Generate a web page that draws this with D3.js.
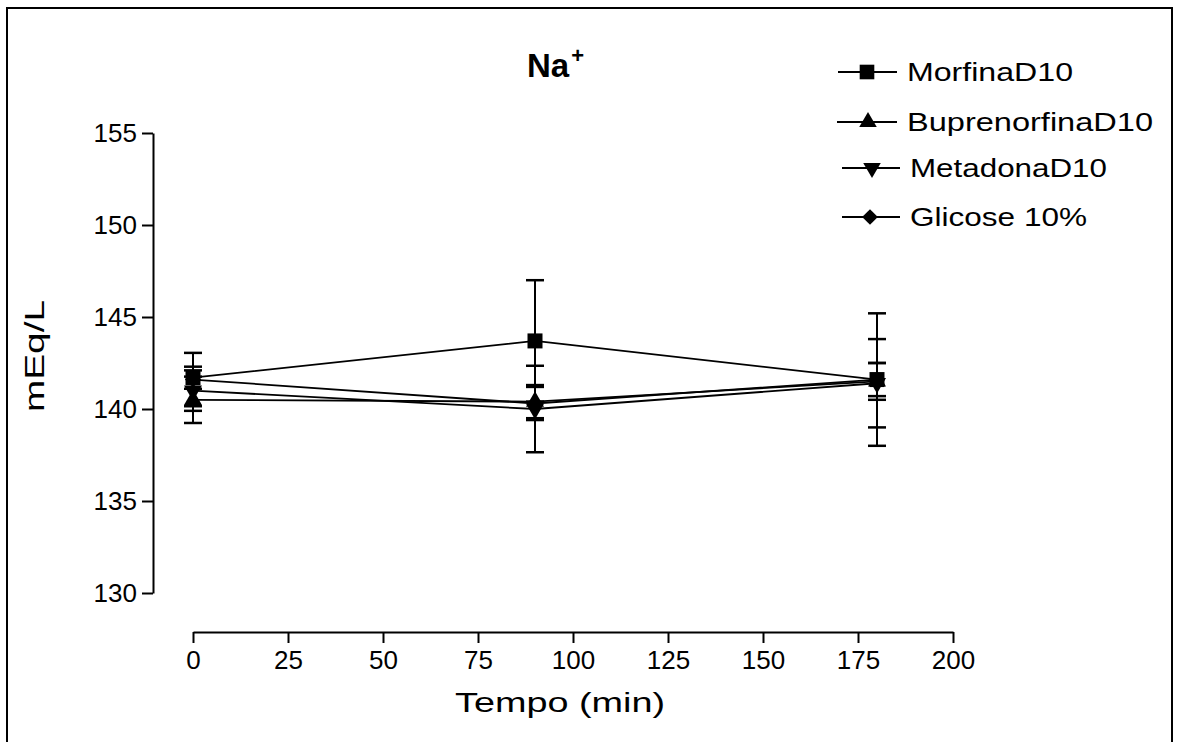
<!DOCTYPE html>
<html>
<head>
<meta charset="utf-8">
<script src="https://cdn.jsdelivr.net/npm/d3@7"></script>
<style>
  body { margin: 0; background: #fff; }
  text { font-family: Arial, "Liberation Sans", sans-serif; fill: #000; }
</style>
</head>
<body>
<div id="chart"></div>
<script>
const width = 1182;
const height = 742;

// Data
const tempo = [0, 90, 180];
const seriesNames = ["MorfinaD10", "BuprenorfinaD10", "MetadonaD10", "Glicose 10%"];
const morfina = [141.7, 143.7, 141.6];
const morfinaErr = [0.6, 3.3, 3.6];
const buprenorfina = [140.5, 140.4, 141.5];
const buprenorfinaErr = [1.26, 0.9, 1.0];
const metadona = [141.0, 140.0, 141.4];
const metadonaErr = [1.1, 2.35, 2.4];
const glicose = [141.6, 140.3, 141.6];
const glicoseErr = [1.45, 0.9, 0.9];
const xTicks = [0, 25, 50, 75, 100, 125, 150, 175, 200];
const yTicks = [130, 135, 140, 145, 150, 155];

const series = [
  { name: seriesNames[0], values: morfina, err: morfinaErr, symbol: "square" },
  { name: seriesNames[1], values: buprenorfina, err: buprenorfinaErr, symbol: "up" },
  { name: seriesNames[2], values: metadona, err: metadonaErr, symbol: "down" },
  { name: seriesNames[3], values: glicose, err: glicoseErr, symbol: "diamond" },
];

const svg = d3
  .select("#chart")
  .append("svg")
  .attr("width", width)
  .attr("height", height);

// outer frame
svg
  .append("rect")
  .attr("x", 7)
  .attr("y", 8)
  .attr("width", 1165)
  .attr("height", 760)
  .attr("fill", "none")
  .attr("stroke", "#000")
  .attr("stroke-width", 2);

const xScale = d3.scaleLinear().domain([0, 200]).range([193, 953]);
const yScale = d3.scaleLinear().domain([130, 155]).range([593, 133]);

// marker path helper
function markerPath(type, big) {
  const k = big ? 1 : 0.95;
  if (type === "square") return d3.symbol(d3.symbolSquare, 225 * k)();
  if (type === "diamond") return d3.symbol(d3.symbolSquare, 130 * k)();
  return d3.symbol(d3.symbolTriangle, 140 * k)();
}
function markerRotate(type) {
  if (type === "diamond") return " rotate(45)";
  if (type === "down") return " rotate(180)";
  return "";
}

// axes
const xAxis = svg
  .append("g")
  .attr("transform", "translate(0,632)")
  .call(d3.axisBottom(xScale).tickValues(xTicks).tickSize(11).tickPadding(8).tickSizeOuter(0));

const yAxis = svg
  .append("g")
  .attr("transform", "translate(153,0)")
  .call(d3.axisLeft(yScale).tickValues(yTicks).tickSize(11).tickPadding(5).tickSizeOuter(0));

[xAxis, yAxis].forEach((ax) => {
  ax.select(".domain").attr("stroke-width", 2);
  ax.selectAll(".tick line").attr("stroke-width", 2);
  ax.selectAll(".tick text")
    .attr("font-size", 26)
    .attr("font-family", "Arial, 'Liberation Sans', sans-serif");
});
xAxis.selectAll(".tick text").attr("dy", "0.71em");

// error bars
const capHalf = 9;
series.forEach((s) => {
  const g = svg.append("g");
  tempo.forEach((t, i) => {
    const x = xScale(t);
    const hi = yScale(s.values[i] + s.err[i]);
    const lo = yScale(s.values[i] - s.err[i]);
    g.append("line").attr("x1", x).attr("x2", x).attr("y1", hi).attr("y2", lo)
      .attr("stroke", "#000").attr("stroke-width", 2);
    [hi, lo].forEach((yy) => {
      g.append("line").attr("x1", x - capHalf).attr("x2", x + capHalf)
        .attr("y1", yy).attr("y2", yy)
        .attr("stroke", "#000").attr("stroke-width", 2.5);
    });
  });
});

// lines
const line = d3.line().x((d) => xScale(d[0])).y((d) => yScale(d[1]));
series.forEach((s) => {
  svg
    .append("path")
    .datum(tempo.map((t, i) => [t, s.values[i]]))
    .attr("d", line)
    .attr("fill", "none")
    .attr("stroke", "#000")
    .attr("stroke-width", 1.8);
});

// markers
series.forEach((s) => {
  svg
    .selectAll(null)
    .data(tempo.map((t, i) => [t, s.values[i]]))
    .enter()
    .append("path")
    .attr("d", markerPath(s.symbol, true))
    .attr("transform", (d) => `translate(${xScale(d[0])},${yScale(d[1])})` + markerRotate(s.symbol))
    .attr("fill", "#000");
});

// title
const title = svg.append("text")
  .attr("x", 527)
  .attr("y", 77)
  .attr("font-size", 33)
  .attr("font-weight", "bold");
title.append("tspan").text("Na");
title.append("tspan").attr("font-size", 22).attr("dy", -14).attr("dx", 2).text("+");

// axis titles
svg.append("text")
  .attr("x", 560)
  .attr("y", 712)
  .attr("text-anchor", "middle")
  .attr("font-size", 27)
  .attr("textLength", 210)
  .attr("lengthAdjust", "spacingAndGlyphs")
  .text("Tempo (min)");

svg.append("text")
  .attr("transform", "translate(44,356) rotate(-90)")
  .attr("text-anchor", "middle")
  .attr("font-size", 27)
  .attr("textLength", 112)
  .attr("lengthAdjust", "spacingAndGlyphs")
  .text("mEq/L");

// legend
const legendRows = [
  { y: 72, x1: 838, x2: 897, mx: 867, tx: 907, tw: 166 },
  { y: 122, x1: 837, x2: 897, mx: 868, tx: 907, tw: 246 },
  { y: 168, x1: 842, x2: 900, mx: 872, tx: 910, tw: 197 },
  { y: 217, x1: 842, x2: 900, mx: 870, tx: 910, tw: 177 },
];
series.forEach((s, i) => {
  const r = legendRows[i];
  const g = svg.append("g");
  g.append("line").attr("x1", r.x1).attr("x2", r.x2).attr("y1", r.y).attr("y2", r.y)
    .attr("stroke", "#000").attr("stroke-width", 1.8);
  g.append("path")
    .attr("d", markerPath(s.symbol, false))
    .attr("transform", `translate(${r.mx},${r.y})` + markerRotate(s.symbol))
    .attr("fill", "#000");
  g.append("text")
    .attr("x", r.tx)
    .attr("y", r.y)
    .attr("dy", "0.36em")
    .attr("font-size", 25)
    .attr("textLength", r.tw)
    .attr("lengthAdjust", "spacingAndGlyphs")
    .text(s.name);
});
</script>
</body>
</html>
